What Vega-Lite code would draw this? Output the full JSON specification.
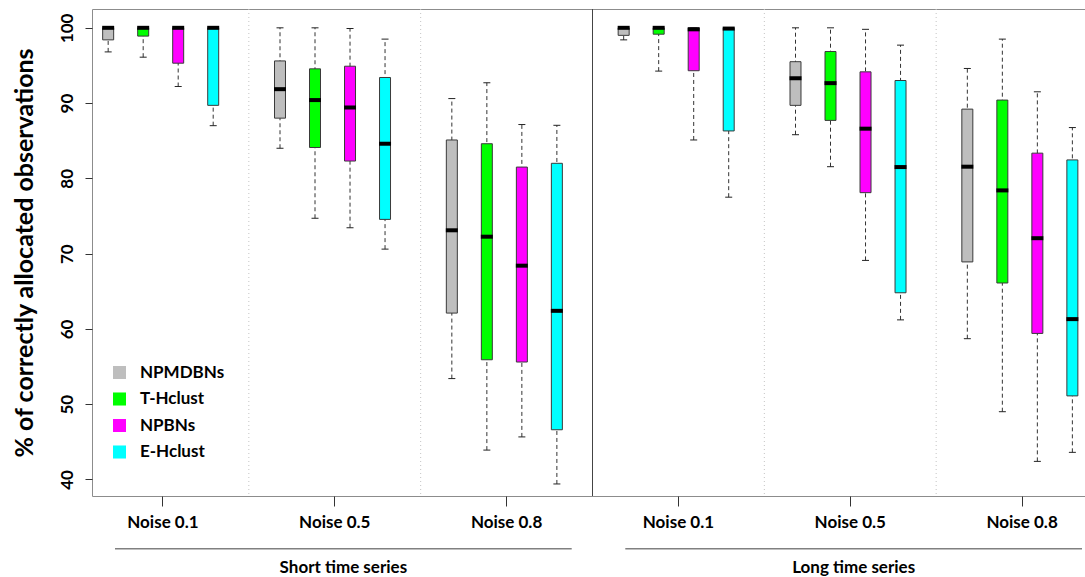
{
  "$schema": "https://vega.github.io/schema/vega-lite/v6.json",
  "autosize": {"type": "pad"},
  "padding": {"left": 11, "top": 8, "right": 0, "bottom": 0},
  "background": "white",
  "config": {
    "font": "Lato",
    "view": {"stroke": null},
    "axis": {
      "labelFont": "Lato", "labelFontWeight": "bold", "labelColor": "#000",
      "titleFont": "Lato", "titleFontWeight": "bold", "titleColor": "#000",
      "tickColor": "#333", "domain": false, "grid": false
    },
    "axisY": {
      "labelAngle": -90, "labelAlign": "center", "labelBaseline": "bottom",
      "labelFontSize": 17, "tickSize": 7, "labelPadding": 9,
      "titleFontSize": 25, "titlePadding": 21
    },
    "axisX": {"labelFontSize": 17, "tickSize": 10, "labelPadding": 8, "labelAngle": 0},
    "legend": {
      "orient": "none", "legendX": 19, "legendY": 355, "padding": 0,
      "symbolType": "square", "symbolSize": 170, "symbolStrokeWidth": 0,
      "labelFont": "Lato", "labelFontWeight": "bold", "labelFontSize": 17,
      "labelColor": "#000", "labelOffset": 12, "rowPadding": 8.5
    }
  },
  "datasets": {
    "boxes": [
      {"group": "Short|Noise 0.1", "method": "NPMDBNs", "lo": 96.8, "q1": 98.4, "med": 100, "q3": 100, "hi": 100},
      {"group": "Short|Noise 0.1", "method": "T-Hclust", "lo": 96.1, "q1": 98.9, "med": 100, "q3": 100, "hi": 100},
      {"group": "Short|Noise 0.1", "method": "NPBNs", "lo": 92.2, "q1": 95.3, "med": 100, "q3": 100, "hi": 100},
      {"group": "Short|Noise 0.1", "method": "E-Hclust", "lo": 87.0, "q1": 89.7, "med": 100, "q3": 100, "hi": 100},
      {"group": "Short|Noise 0.5", "method": "NPMDBNs", "lo": 84.0, "q1": 88.0, "med": 91.85, "q3": 95.6, "hi": 100},
      {"group": "Short|Noise 0.5", "method": "T-Hclust", "lo": 74.7, "q1": 84.1, "med": 90.4, "q3": 94.55, "hi": 100},
      {"group": "Short|Noise 0.5", "method": "NPBNs", "lo": 73.45, "q1": 82.3, "med": 89.4, "q3": 94.9, "hi": 99.9},
      {"group": "Short|Noise 0.5", "method": "E-Hclust", "lo": 70.6, "q1": 74.55, "med": 84.6, "q3": 93.4, "hi": 98.5},
      {"group": "Short|Noise 0.8", "method": "NPMDBNs", "lo": 53.4, "q1": 62.1, "med": 73.1, "q3": 85.1, "hi": 90.6},
      {"group": "Short|Noise 0.8", "method": "T-Hclust", "lo": 43.9, "q1": 55.9, "med": 72.25, "q3": 84.6, "hi": 92.7},
      {"group": "Short|Noise 0.8", "method": "NPBNs", "lo": 45.65, "q1": 55.6, "med": 68.4, "q3": 81.5, "hi": 87.15},
      {"group": "Short|Noise 0.8", "method": "E-Hclust", "lo": 39.4, "q1": 46.6, "med": 62.4, "q3": 82.0, "hi": 87.05},
      {"group": "Long|Noise 0.1", "method": "NPMDBNs", "lo": 98.4, "q1": 99.0, "med": 100, "q3": 100, "hi": 100},
      {"group": "Long|Noise 0.1", "method": "T-Hclust", "lo": 94.25, "q1": 99.15, "med": 100, "q3": 100, "hi": 100},
      {"group": "Long|Noise 0.1", "method": "NPBNs", "lo": 85.1, "q1": 94.3, "med": 99.8, "q3": 100, "hi": 100},
      {"group": "Long|Noise 0.1", "method": "E-Hclust", "lo": 77.5, "q1": 86.3, "med": 99.9, "q3": 100, "hi": 100},
      {"group": "Long|Noise 0.5", "method": "NPMDBNs", "lo": 85.8, "q1": 89.7, "med": 93.3, "q3": 95.5, "hi": 100},
      {"group": "Long|Noise 0.5", "method": "T-Hclust", "lo": 81.55, "q1": 87.7, "med": 92.65, "q3": 96.85, "hi": 100},
      {"group": "Long|Noise 0.5", "method": "NPBNs", "lo": 69.1, "q1": 78.1, "med": 86.6, "q3": 94.15, "hi": 99.8},
      {"group": "Long|Noise 0.5", "method": "E-Hclust", "lo": 61.2, "q1": 64.8, "med": 81.5, "q3": 93.0, "hi": 97.7},
      {"group": "Long|Noise 0.8", "method": "NPMDBNs", "lo": 58.7, "q1": 68.9, "med": 81.55, "q3": 89.2, "hi": 94.6},
      {"group": "Long|Noise 0.8", "method": "T-Hclust", "lo": 49.0, "q1": 66.1, "med": 78.4, "q3": 90.4, "hi": 98.5},
      {"group": "Long|Noise 0.8", "method": "NPBNs", "lo": 42.4, "q1": 59.4, "med": 72.05, "q3": 83.35, "hi": 91.5},
      {"group": "Long|Noise 0.8", "method": "E-Hclust", "lo": 43.6, "q1": 51.1, "med": 61.3, "q3": 82.45, "hi": 86.75}
    ],
    "series": [
      {"series": "Short time series"},
      {"series": "Long time series"}
    ]
  },
  "spacing": 52,
  "bounds": "flush",
  "vconcat": [
    {
      "width": 993,
      "height": 487,
      "view": {"stroke": "#8c8c8c", "strokeWidth": 1},
      "data": {"name": "boxes"},
      "encoding": {
        "x": {
          "field": "group", "type": "nominal", "title": null,
          "scale": {
            "domain": ["Short|Noise 0.1", "Short|Noise 0.5", "Short|Noise 0.8", "Long|Noise 0.1", "Long|Noise 0.5", "Long|Noise 0.8"],
            "range": [-15, 1016], "paddingInner": 0, "paddingOuter": 0
          },
          "axis": {"labelExpr": "split(datum.label, '|')[1]", "labelAngle": 0}
        }
      },
      "layer": [
        {
          "transform": [{"filter": "datum.method === 'NPMDBNs' && indexof(datum.group, 'Noise 0.1') < 0"}],
          "mark": {"type": "rule", "color": "#c4c4c4", "strokeDash": [1, 3], "strokeWidth": 1},
          "encoding": {"x": {"field": "group", "type": "nominal", "bandPosition": 0, "title": null}}
        },
        {
          "transform": [{"filter": "datum.method === 'NPMDBNs' && datum.group === 'Long|Noise 0.1'"}],
          "mark": {"type": "rule", "color": "#444", "strokeWidth": 1},
          "encoding": {"x": {"field": "group", "type": "nominal", "bandPosition": 0, "title": null}}
        },
        {
          "mark": {"type": "rule", "color": "#333", "strokeDash": [4, 3], "strokeWidth": 1},
          "encoding": {
            "xOffset": {"field": "method", "type": "nominal", "scale": {"domain": ["NPMDBNs", "T-Hclust", "NPBNs", "E-Hclust"], "paddingInner": 0.686, "paddingOuter": 0.797, "align": 0.46}},
            "y": {"field": "lo", "type": "quantitative", "title": "% of correctly allocated observations", "scale": {"domain": [37.8, 102.5], "nice": false, "zero": false}, "axis": {"values": [40, 50, 60, 70, 80, 90, 100]}},
            "y2": {"field": "hi"}
          }
        },
        {
          "mark": {"type": "tick", "color": "#222", "size": 7, "thickness": 1, "opacity": 1},
          "encoding": {
            "xOffset": {"field": "method", "type": "nominal"},
            "y": {"field": "lo", "type": "quantitative", "title": "% of correctly allocated observations"}
          }
        },
        {
          "mark": {"type": "tick", "color": "#222", "size": 7, "thickness": 1, "opacity": 1},
          "encoding": {
            "xOffset": {"field": "method", "type": "nominal"},
            "y": {"field": "hi", "type": "quantitative", "title": "% of correctly allocated observations"}
          }
        },
        {
          "mark": {"type": "bar", "stroke": "#3a3a3a", "strokeWidth": 1, "opacity": 1},
          "encoding": {
            "xOffset": {"field": "method", "type": "nominal"},
            "y": {"field": "q1", "type": "quantitative", "title": "% of correctly allocated observations"},
            "y2": {"field": "q3"},
            "color": {
              "field": "method", "type": "nominal", "title": null,
              "scale": {"domain": ["NPMDBNs", "T-Hclust", "NPBNs", "E-Hclust"], "range": ["#BEBEBE", "#00FF00", "#FF00FF", "#00FFFF"]}
            }
          }
        },
        {
          "mark": {"type": "tick", "color": "#000", "size": 12, "thickness": 4, "opacity": 1},
          "encoding": {
            "xOffset": {"field": "method", "type": "nominal"},
            "y": {"field": "med", "type": "quantitative", "title": "% of correctly allocated observations"}
          }
        }
      ]
    },
    {
      "width": 993,
      "height": 1.5,
      "view": {"stroke": null},
      "data": {"name": "series"},
      "mark": {"type": "bar", "color": "#808080"},
      "encoding": {
        "x": {
          "field": "series", "type": "nominal", "title": null, "sort": null,
          "scale": {"range": [23, 990], "paddingInner": 0.105, "paddingOuter": 0},
          "axis": {"ticks": false, "labelPadding": 10, "labelAngle": 0}
        }
      }
    }
  ]
}
